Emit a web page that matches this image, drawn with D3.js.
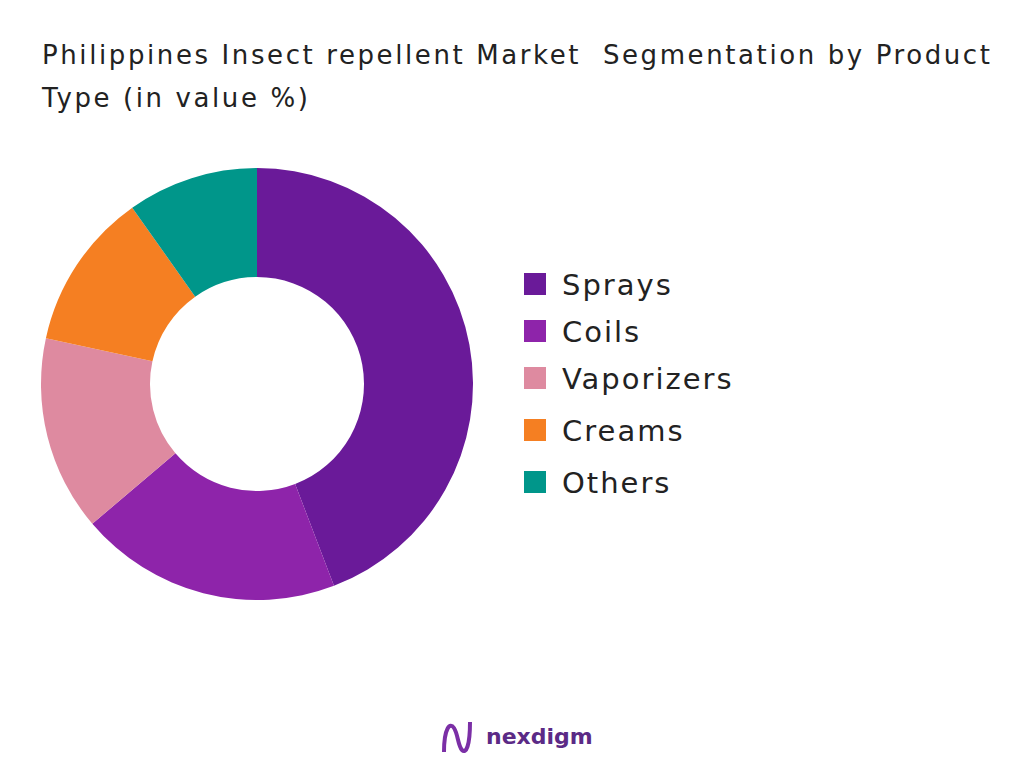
<!DOCTYPE html>
<html><head><meta charset="utf-8">
<script src="https://cdn.jsdelivr.net/npm/d3@7"></script>
<style>body{margin:0;background:#fff;font-family:"DejaVu Sans",sans-serif} text{white-space:pre}</style>
</head><body><div id="chart"></div>
<script>
// data
var categories = ["Sprays", "Coils", "Vaporizers", "Creams", "Others"];
var values = [44.2, 19.6, 14.6, 11.8, 9.8];
var colors = ["#6a1a99", "#8e24aa", "#de8aa0", "#f57f22", "#00968a"];

var width = 1024, height = 768;
var svg = d3.select("#chart").append("svg")
    .attr("width", width).attr("height", height);

// title
svg.append("text").attr("x", 42).attr("y", 64)
  .attr("font-size", 26).attr("fill", "#222").attr("letter-spacing", 2.6)
  .text("Philippines Insect repellent Market  Segmentation by Product");
svg.append("text").attr("x", 42).attr("y", 107)
  .attr("font-size", 26).attr("fill", "#222").attr("letter-spacing", 2.6)
  .text("Type (in value %)");

// donut
var pie = d3.pie().sort(null).value(function(d) { return d; });
var arc = d3.arc().innerRadius(107).outerRadius(216);
var g = svg.append("g").attr("transform", "translate(257,384)");
g.selectAll("path").data(pie(values)).enter().append("path")
  .attr("d", arc)
  .attr("fill", function(d, i) { return colors[i]; });

// legend
var ys = [284, 331, 378, 430, 482];
var leg = svg.selectAll(".leg").data(categories).enter().append("g")
  .attr("transform", function(d, i) { return "translate(524," + ys[i] + ")"; });
leg.append("rect").attr("x", 0).attr("y", -11).attr("width", 22).attr("height", 22)
  .attr("fill", function(d, i) { return colors[i]; });
leg.append("text").attr("x", 38).attr("y", 11)
  .attr("font-size", 29).attr("fill", "#222").attr("letter-spacing", 2)
  .text(function(d) { return d; });

// logo
var logo = svg.append("g").attr("transform", "translate(440,718)");
logo.append("path")
  .attr("d", "M4,34 C4,10 10,4 14,10 C18,16 18,28 22,32 C26,36 30,28 30,4")
  .attr("fill", "none").attr("stroke", "#7b2fa6").attr("stroke-width", 4);
logo.append("text").attr("x", 46).attr("y", 26)
  .attr("font-size", 22).attr("font-weight", "bold").attr("fill", "#5b2a86")
  .text("nexdigm");
</script></body></html>
